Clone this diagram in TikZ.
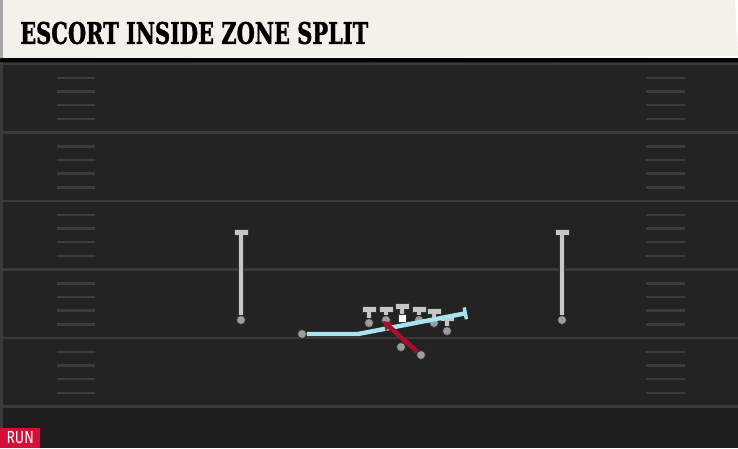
\documentclass[tikz,border=0pt]{standalone}
\usepackage{fontspec}
\usepackage{graphicx}
\usetikzlibrary{positioning,arrows.meta}
\newfontfamily\titlefont[FakeBold=1.5]{DejaVu Serif Condensed}
\newfontfamily\tagfont{Fira Sans}
\definecolor{fieldbg}{HTML}{232323}
\definecolor{fieldlow}{HTML}{1E1E1E}
\definecolor{yardline}{HTML}{3A3A3A}
\definecolor{hashgray}{HTML}{3C3C3C}
\definecolor{banner}{HTML}{F4F1EA}
\definecolor{playergray}{HTML}{C6C6C6}
\definecolor{dotgray}{HTML}{9C9C9C}
\definecolor{blockblue}{HTML}{A8E4F0}
\definecolor{runred}{HTML}{A50F2D}
\definecolor{tagred}{HTML}{D50F3A}

\begin{document}
\begin{tikzpicture}[x=1pt,y=-1pt]
	\tikzstyle{dot}=[circle,fill=dotgray,draw=black!80,line width=0.8pt,inner sep=0pt,minimum size=9pt]
	\tikzstyle{tbar}=[rectangle,fill=playergray,draw=black!80,line width=0.8pt,inner sep=0pt,minimum width=14pt,minimum height=6pt]
	\tikzstyle{stem}=[draw=playergray,line width=3.6pt,preaction={draw=black!80,line width=5.2pt}]
	\tikzstyle{block}=[draw=blockblue,line width=4.4pt,line join=round]
	\tikzstyle{run}=[draw=runred,line width=4.6pt]
		\useasboundingbox (0,0) rectangle (738,448);
		% field
		\fill[fieldbg] (0,58) rectangle (738,448);
		\fill[fieldlow] (0,407) rectangle (738,448);
		\fill[yardline] (0,58) rectangle (3,448);
		\fill[black] (0,58) rectangle (738,62);
		\foreach \y in {64,132.5,201,269.5,338,406.5}
			\draw[yardline,line width=2.6pt] (0,\y) -- (738,\y);
		\foreach \y in {64,132.5,201,269.5,338}
			\foreach \d in {14,27.5,41,55}
			{
				\draw[hashgray,line width=2.4pt] (57,\y+\d) -- (95,\y+\d);
				\draw[hashgray,line width=2.4pt] (646,\y+\d) -- (685,\y+\d);
			}
		% title banner
		\fill[banner] (0,0) -- (735,0) -- (738,56) -- (0,58) -- cycle;
		\fill[black!35] (0,0) rectangle (3,58);
		\node[anchor=west,inner sep=0pt] (title) at (20,33)
			{\resizebox{348pt}{22pt}{\titlefont\bfseries ESCORT INSIDE ZONE SPLIT}};
		% receivers
		\node[dot] (wrl) at (241,320) {};
		\node[tbar] (wrltop) at (241,232) {};
			\draw[stem] (wrltop) -- (wrl);
		\node[dot] (wrr) at (562,320) {};
		\node[tbar] (wrrtop) at (562,232) {};
			\draw[stem] (wrrtop) -- (wrr);
		% line
		\node[dot] (lt) at (369,323) {};
		\node[tbar] (lttop) at (369,309) {};
			\draw[stem] (lttop) -- (lt);
		\node[dot] (lg) at (386,320) {};
		\node[tbar] (lgtop) at (386,309) {};
			\draw[stem] (lgtop) -- (lg);
		\node[rectangle,fill=white,draw=black!80,line width=0.8pt,inner sep=0pt,minimum size=8pt] (c) at (402,318) {};
		\node[tbar] (ctop) at (402,306) {};
			\draw[stem] (ctop) -- (c);
		\node[dot] (rg) at (419,320) {};
		\node[tbar] (rgtop) at (419,309) {};
			\draw[stem] (rgtop) -- (rg);
		\node[dot] (rt) at (434,323) {};
		\node[tbar] (rttop) at (434,311) {};
			\draw[stem] (rttop) -- (rt);
		\node[dot] (te) at (447,331) {};
		\node[tbar] (tetop) at (447,318) {};
			\draw[stem] (tetop) -- (te);
		% backs
		\node[dot] (qb) at (401,347) {};
		\node[dot] (rb) at (421,355) {};
		% escort block
		\node[dot] (esc) at (302,334) {};
		\coordinate (escturn) at (358,334);
		\coordinate (escend) at (467,313);
			\draw[block,-{Bar[width=12pt,line width=3.4pt]}] (esc) -- (escturn) -- (escend);
		% run path
		\coordinate (hole) at (383,321);
			\draw[run,-{Triangle[width=11pt,length=9pt]}] (rb) -- (hole);
		% play type tag
		\node[fill=tagred,text=white,anchor=south west,inner sep=0pt,minimum width=40pt,minimum height=20pt] (tag) at (0,448)
			{\tagfont\fontsize{17.5}{17.5}\selectfont\scalebox{0.8}[1]{RUN}};
\end{tikzpicture}
\end{document}
